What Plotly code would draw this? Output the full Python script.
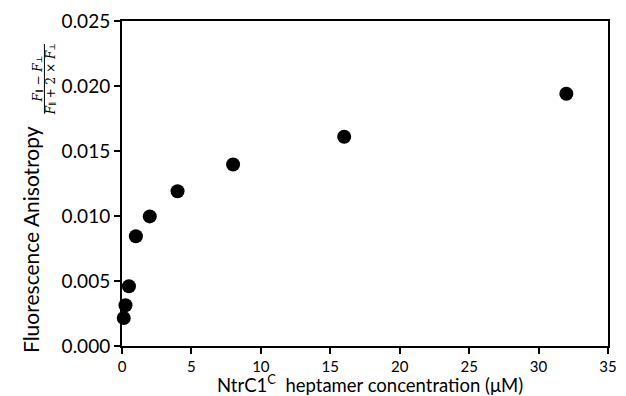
import plotly.graph_objects as go

conc = [0.125, 0.25, 0.5, 1, 2, 4, 8, 16, 32]
anis = [0.00215, 0.00314, 0.0046, 0.00844, 0.00997, 0.0119, 0.01396, 0.0161, 0.0194]
x_ticks = [0, 5, 10, 15, 20, 25, 30, 35]
y_ticks = [0.000, 0.005, 0.010, 0.015, 0.020, 0.025]

W, H = 626, 396
ml, mr, mt, mb = 122, 9, 20, 50
pw, ph = W - ml - mr, H - mt - mb

def px(xp):
    return (xp - ml) / pw

def py(yp):
    return (H - mb - yp) / ph

font = "Lato, Open Sans, sans-serif"

fig = go.Figure(go.Scatter(
    x=conc, y=anis, mode="markers",
    marker=dict(color="black", size=14, line=dict(width=0)),
    cliponaxis=False,
))

axis_common = dict(
    showline=True, linecolor="black", linewidth=2, mirror=True,
    ticks="outside", ticklen=6, tickwidth=1.5, tickcolor="black",
    showgrid=False, zeroline=False,
)

fig.update_layout(
    width=W, height=H,
    margin=dict(l=ml, r=mr, t=mt, b=mb),
    plot_bgcolor="white", paper_bgcolor="white",
    showlegend=False,
    xaxis=dict(range=[0, 35], tickvals=x_ticks, ticktext=[str(v) for v in x_ticks],
               tickfont=dict(family=font, size=15, color="black"), **axis_common),
    yaxis=dict(range=[0, 0.025], tickvals=y_ticks, ticktext=[f"{v:.3f}" for v in y_ticks],
               tickfont=dict(family=font, size=19, color="black"), **axis_common),
)

fig.add_annotation(
    text="NtrC1<sup>C</sup>  heptamer concentration (μM)",
    xref="paper", yref="paper", x=px(375), y=py(384),
    showarrow=False, font=dict(family=font, size=18.5, color="black"),
    xanchor="center", yanchor="middle",
)
fig.add_annotation(
    text="Fluorescence Anisotropy",
    xref="paper", yref="paper", x=px(29), y=py(239),
    showarrow=False, textangle=-90, font=dict(family=font, size=21, color="black"),
    xanchor="center", yanchor="middle",
)
num = "<i>F</i><span style='font-size:8px'>∥</span> − <i>F</i><span style='font-size:8px'>⊥</span>"
den = "<i>F</i><span style='font-size:8px'>∥</span> + 2 × <i>F</i><span style='font-size:8px'>⊥</span>"
fig.add_annotation(
    text=num,
    xref="paper", yref="paper", x=px(36), y=py(78),
    showarrow=False, textangle=-90, font=dict(family="DejaVu Serif, serif", size=12, color="black"),
    xanchor="center", yanchor="middle",
)
fig.add_annotation(
    text=den,
    xref="paper", yref="paper", x=px(50), y=py(78),
    showarrow=False, textangle=-90, font=dict(family="DejaVu Serif, serif", size=12, color="black"),
    xanchor="center", yanchor="middle",
)
fig.add_shape(
    type="line", xref="paper", yref="paper",
    x0=px(43), x1=px(43), y0=py(43), y1=py(113),
    line=dict(color="black", width=1),
)

fig.write_html("out.html")
